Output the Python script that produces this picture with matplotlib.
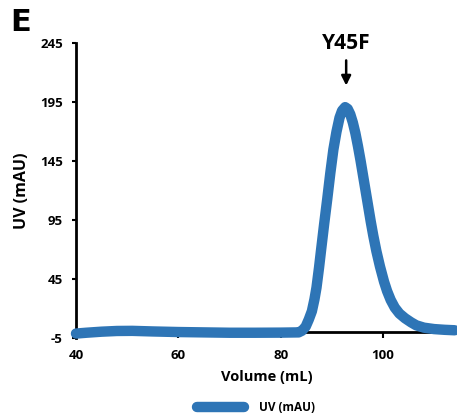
import matplotlib
matplotlib.use("Agg")
import matplotlib.pyplot as plt

plt.rcParams['font.family'] = ['Open Sans', 'DejaVu Sans']
plt.rcParams['font.weight'] = 'bold'
plt.rcParams['axes.unicode_minus'] = False

volume_ml = [40, 42, 45, 48, 51, 55, 60, 65, 70, 75, 80, 83.5, 84.2, 84.9, 85.5,
             86.1, 86.6, 87.0, 87.5, 87.9, 88.5, 89.1, 89.7, 90.3, 90.9, 91.5,
             92.0, 92.6, 93.1, 93.6, 94.1, 94.6, 95.1, 95.6, 96.1, 96.6, 97.1,
             97.6, 98.1, 98.7, 99.4, 100.2, 100.8, 101.5, 102.3, 103.2, 104.3,
             105.5, 106.5, 108.0, 110.0, 112.0, 114.0]
uv_mau = [-1.0, -0.3, 0.6, 1.2, 1.3, 0.8, 0.3, 0.0, -0.3, -0.3, -0.2, 0.0, 1.5, 5.0,
          11.0, 18.0, 28.0, 38.0, 55.0, 70.0, 92.0, 113.0, 135.0, 155.0, 170.0,
          182.0, 188.0, 191.0, 189.5, 185.0, 178.0, 169.0, 158.0, 146.0, 133.0,
          120.0, 107.0, 94.0, 82.0, 69.0, 56.0, 43.0, 35.0, 27.5, 21.0, 16.0,
          12.0, 8.5, 6.0, 4.0, 2.8, 2.2, 1.8]

x_ticks = [40, 60, 80, 100]
y_ticks = [-5, 45, 95, 145, 195, 245]
x_lim = (40, 114.46)
y_lim = (-5, 245)
peak_label = "Y45F"
peak_x = 92.8
panel_label = "E"

blue = '#2E75B6'

fig = plt.figure(figsize=(4.57, 4.18), dpi=100)
ax = fig.add_axes([0.1663, 0.1907, 1.0 - 0.1663, 0.896 - 0.1907])

ax.plot(volume_ml, uv_mau, color=blue, lw=7.5, solid_capstyle='round',
        solid_joinstyle='round', label='UV (mAU)', clip_on=False, zorder=3)

ax.set_xlim(*x_lim)
ax.set_ylim(*y_lim)
ax.set_xticks(x_ticks)
ax.set_yticks(y_ticks)

for s in ['top', 'right']:
    ax.spines[s].set_visible(False)
ax.spines['bottom'].set_position(('data', 0))
ax.spines['bottom'].set_linewidth(2.0)
ax.spines['left'].set_linewidth(2.0)
ax.spines['bottom'].set_zorder(2)

ax.tick_params(axis='x', direction='out', length=4, width=1.5, pad=8,
               labelsize=9.5)
ax.tick_params(axis='y', direction='out', length=3, width=1.5, pad=6.5,
               labelsize=9.5)

ax.set_xlabel('Volume (mL)', fontsize=10.5, fontweight='bold')
ax.set_ylabel('UV (mAU)', fontsize=11.5, fontweight='bold')
ax.xaxis.set_label_coords(0.5, -0.108)
ax.yaxis.set_label_coords(-0.12, 0.5)

ax.annotate('', xy=(peak_x, 207), xytext=(peak_x, 233),
            arrowprops=dict(arrowstyle='-|>', color='black', lw=1.8,
                            mutation_scale=14), annotation_clip=False)
ax.text(peak_x, 245, peak_label, ha='center', va='center', fontsize=15,
        fontweight='bold', clip_on=False)

fig.text(0.022, 0.945, panel_label, fontsize=22, fontweight='bold',
         family='DejaVu Sans', ha='left', va='center')

fig.legend(loc='center', bbox_to_anchor=(0.56, 0.024), frameon=False,
           handlelength=4.0, handletextpad=1.2,
           prop={'weight': 'bold', 'size': 8.5, 'family': ['Open Sans']})

fig.savefig('out.png', dpi=100)
